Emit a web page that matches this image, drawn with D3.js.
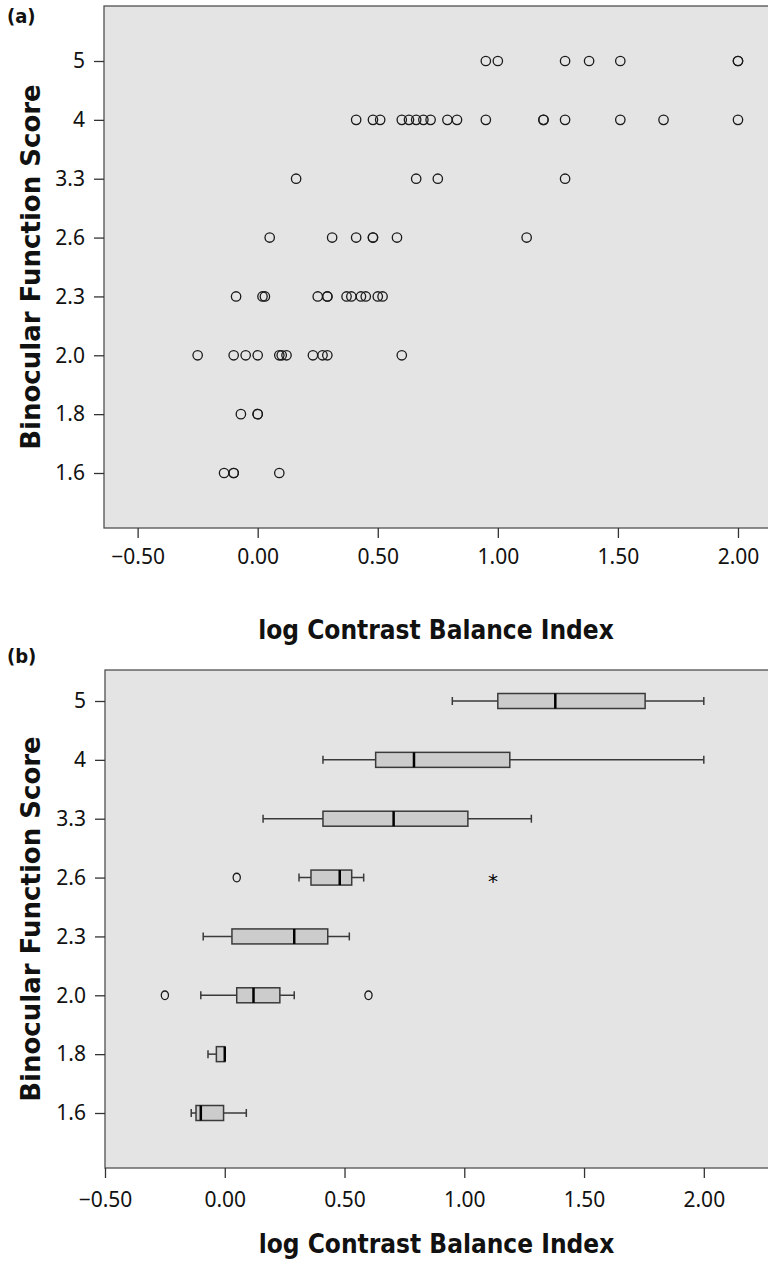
<!DOCTYPE html>
<html lang="en">
<head>
<meta charset="UTF-8">
<title>Binocular Function Score vs log Contrast Balance Index</title>
<script src="https://cdnjs.cloudflare.com/ajax/libs/d3/7.8.5/d3.min.js"></script>
<style>
  body { margin: 0; background: #fff; }
  .tick text { font-family: "Noto Sans", "Open Sans", sans-serif; font-size: 21px; fill: #111; }
  .tick line { stroke: #333; stroke-width: 1.3; }
  .ytitle { font-family: "DejaVu Sans", sans-serif; font-weight: bold; font-size: 26px; fill: #111; }
  .xtitle { font-family: "Liberation Sans Narrow", "DejaVu Sans Condensed", sans-serif; font-weight: bold; font-size: 26px; fill: #111; }
  .plabel { font-family: "Liberation Sans Narrow", "DejaVu Sans Condensed", sans-serif; font-weight: bold; font-size: 20px; fill: #111; }
</style>
</head>
<body>
<svg id="chart" width="768" height="1263"></svg>
<script>
// categories on the y axis (top to bottom)
const scores = ["5", "4", "3.3", "2.6", "2.3", "2.0", "1.8", "1.6"];
const xTicks = [-0.5, 0, 0.5, 1, 1.5, 2];

// panel (a): individual observations, one array per score
const pts5  = [0.95, 1.00, 1.28, 1.38, 1.51, 2.00, 2.00];
const pts4  = [0.41, 0.48, 0.51, 0.60, 0.63, 0.66, 0.69, 0.72, 0.79, 0.83, 0.95, 1.19, 1.19, 1.28, 1.51, 1.69, 2.00];
const pts33 = [0.16, 0.66, 0.75, 1.28];
const pts26 = [0.05, 0.31, 0.41, 0.48, 0.48, 0.58, 1.12];
const pts23 = [-0.09, 0.02, 0.03, 0.25, 0.29, 0.29, 0.37, 0.39, 0.43, 0.45, 0.50, 0.52];
const pts20 = [-0.25, -0.10, -0.05, 0.00, 0.09, 0.10, 0.12, 0.23, 0.27, 0.29, 0.60];
const pts18 = [-0.07, 0.00, 0.00];
const pts16 = [-0.14, -0.10, -0.10, 0.09];
const pointsByScore = [pts5, pts4, pts33, pts26, pts23, pts20, pts18, pts16];

// panel (b): box summaries
const whiskerLow  = [0.95, 0.41, 0.16, 0.31, -0.09, -0.10, -0.07, -0.14];
const lowerHinge  = [1.14, 0.63, 0.41, 0.36, 0.03, 0.05, -0.035, -0.12];
const medians     = [1.38, 0.79, 0.705, 0.48, 0.29, 0.12, 0.00, -0.10];
const upperHinge  = [1.755, 1.19, 1.015, 0.53, 0.43, 0.23, 0.00, -0.005];
const whiskerHigh = [2.00, 2.00, 1.28, 0.58, 0.52, 0.29, 0.00, 0.09];
const outlierScores = ["2.6", "2.6", "2.0", "2.0"];
const outlierValues = [0.05, 1.12, -0.25, 0.60];
const outlierKinds  = ["o", "*", "o", "o"];

const svg = d3.select("#chart");
const W = 768;

function makePanel(cfg) {
  const g = svg.append("g");
  const x = d3.scaleLinear().domain(cfg.xDomain).range([cfg.left, W]);
  const y = d3.scalePoint().domain(scores).range([cfg.top + cfg.padTop, cfg.bottom - cfg.padBottom]);

  g.append("rect")
    .attr("x", cfg.left).attr("y", cfg.top)
    .attr("width", W - cfg.left + 5).attr("height", cfg.bottom - cfg.top)
    .attr("fill", "#e4e4e4").attr("stroke", "#505050").attr("stroke-width", 1.3);

  const ya = g.append("g")
    .attr("transform", `translate(${cfg.left},0)`)
    .call(d3.axisLeft(y).tickSize(10).tickPadding(9));
  ya.select(".domain").remove();

  const xa = g.append("g")
    .attr("transform", `translate(0,${cfg.bottom})`)
    .call(d3.axisBottom(x).tickValues(xTicks).tickFormat(d3.format(".2f")).tickSize(10).tickPadding(cfg.xPad));
  xa.select(".domain").remove();

  g.append("text").attr("class", "ytitle")
    .attr("transform", `translate(40,${(cfg.top + cfg.bottom) / 2}) rotate(-90)`)
    .attr("text-anchor", "middle")
    .text("Binocular Function Score");

  g.append("text").attr("class", "xtitle")
    .attr("x", (cfg.left + W) / 2).attr("y", cfg.titleY)
    .attr("text-anchor", "middle")
    .text("log Contrast Balance Index");

  g.append("text").attr("class", "plabel")
    .attr("x", 7).attr("y", cfg.labelY)
    .text(cfg.label);

  return { g, x, y };
}

// ---- panel (a): scatter
const a = makePanel({ left: 104, top: 6, bottom: 528, padTop: 55, padBottom: 55,
  xDomain: [-0.64, 2.125], xPad: 11, titleY: 639, labelY: 23, label: "(a)" });

const flat = [];
pointsByScore.forEach((vals, i) => vals.forEach(v => flat.push({ s: scores[i], v })));
a.g.append("g").selectAll("circle").data(flat).join("circle")
  .attr("cx", d => a.x(d.v)).attr("cy", d => a.y(d.s))
  .attr("r", 4.7).attr("fill", "none")
  .attr("stroke", "#1a1a1a").attr("stroke-width", 1.3);

// ---- panel (b): box plots
const b = makePanel({ left: 105, top: 670, bottom: 1168, padTop: 31, padBottom: 55,
  xDomain: [-0.5, 2.268], xPad: 14, titleY: 1253, labelY: 663, label: "(b)" });

const boxes = scores.map((s, i) => ({
  s, lo: whiskerLow[i], q1: lowerHinge[i], med: medians[i], q3: upperHinge[i], hi: whiskerHigh[i]
}));
const boxH = 15, capH = 8;
const bg = b.g.append("g").selectAll("g").data(boxes).join("g")
  .attr("transform", d => `translate(0,${b.y(d.s)})`);

bg.append("line")
  .attr("x1", d => b.x(d.lo)).attr("x2", d => b.x(d.hi))
  .attr("stroke", "#3a3a3a").attr("stroke-width", 1.5);
bg.append("line")
  .attr("x1", d => b.x(d.lo)).attr("x2", d => b.x(d.lo))
  .attr("y1", -capH / 2).attr("y2", capH / 2)
  .attr("stroke", "#3a3a3a").attr("stroke-width", 1.5);
bg.filter(d => d.hi > d.q3).append("line")
  .attr("x1", d => b.x(d.hi)).attr("x2", d => b.x(d.hi))
  .attr("y1", -capH / 2).attr("y2", capH / 2)
  .attr("stroke", "#3a3a3a").attr("stroke-width", 1.5);
bg.append("rect")
  .attr("x", d => b.x(d.q1)).attr("y", -boxH / 2)
  .attr("width", d => b.x(d.q3) - b.x(d.q1)).attr("height", boxH)
  .attr("fill", "#cccccc").attr("stroke", "#3a3a3a").attr("stroke-width", 1.5);
bg.append("line")
  .attr("x1", d => b.x(d.med)).attr("x2", d => b.x(d.med))
  .attr("y1", -boxH / 2).attr("y2", boxH / 2)
  .attr("stroke", "#000").attr("stroke-width", 2.5);

const outliers = outlierValues.map((v, i) => ({ s: outlierScores[i], v, k: outlierKinds[i] }));
b.g.append("g").selectAll("ellipse").data(outliers.filter(d => d.k === "o")).join("ellipse")
  .attr("cx", d => b.x(d.v)).attr("cy", d => b.y(d.s))
  .attr("rx", 3.6).attr("ry", 4.3).attr("fill", "none")
  .attr("stroke", "#1a1a1a").attr("stroke-width", 1.3);
b.g.append("g").selectAll("text").data(outliers.filter(d => d.k === "*")).join("text")
  .attr("x", d => b.x(d.v)).attr("y", d => b.y(d.s) + 10)
  .attr("text-anchor", "middle")
  .style("font-family", "DejaVu Sans, sans-serif").style("font-size", "20px").attr("fill", "#000")
  .text("*");
</script>
</body>
</html>
